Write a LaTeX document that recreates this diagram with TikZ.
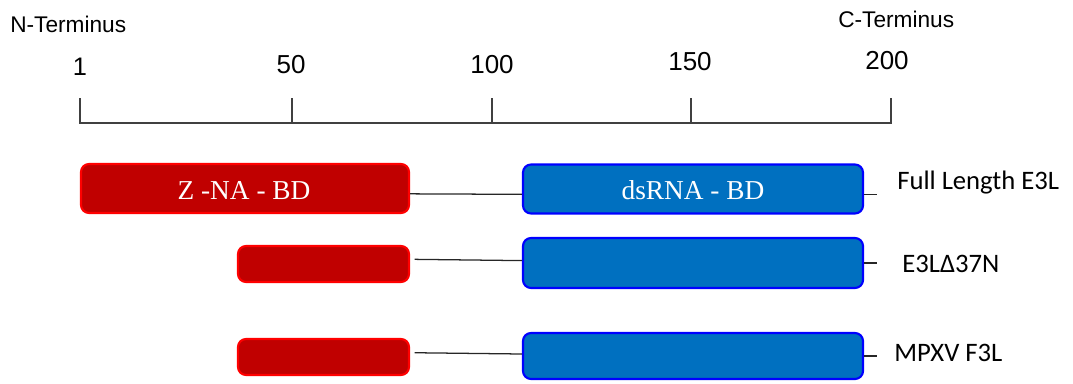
\documentclass[tikz,border=0pt]{standalone}
\usepackage{fontspec}
\setmainfont{Liberation Serif}
\newfontfamily\axisfont{Liberation Sans}
\newfontfamily\labelfont{Carlito}
\definecolor{znared}{HTML}{C00000}
\definecolor{znaedge}{HTML}{FF0000}
\definecolor{dsblue}{HTML}{0070C0}
\definecolor{dsedge}{HTML}{0000FF}
\definecolor{axisgray}{HTML}{404040}
\tikzset{
  protbox/.style={rounded corners=6pt, line width=1.6pt, inner sep=0pt,
    text=white, font=\fontsize{20}{24}\selectfont},
  zna/.style={protbox, fill=znared, draw=znaedge},
  dsrna/.style={protbox, fill=dsblue, draw=dsedge},
  boxtext/.style={font=\fontsize{20.5}{24}\selectfont, text=white, anchor=base, inner sep=0pt},
  link/.style={draw=black!85, line width=0.95pt},
  axisline/.style={draw=axisgray, line width=1pt},
  ticklabel/.style={anchor=base, inner sep=0pt, font=\axisfont\fontsize{19.5}{23}\selectfont},
  endlabel/.style={anchor=base west, inner sep=0pt, font=\axisfont\fontsize{17}{20}\selectfont},
  construct/.style={anchor=base west, inner sep=0pt, font=\labelfont\fontsize{20}{24}\selectfont},
}
\begin{document}
\begin{tikzpicture}[x=0.75pt,y=-0.75pt]
\useasboundingbox (0,0) rectangle (1073,383);

% residue scale
\node[endlabel] (nterm) at (10,32) {N-Terminus};
\node[endlabel] (cterm) at (838,27) {C-Terminus};
\node[ticklabel,font=\axisfont\fontsize{19}{22}\selectfont] (t1) at (80,75) {1};
\node[ticklabel] (t50) at (291,73) {50};
\node[ticklabel] (t100) at (492,73) {100};
\node[ticklabel] (t150) at (690,70) {150};
\node[ticklabel] (t200) at (887,69) {200};
\draw[axisline] (80,98) -- (80,123) -- (891,123) -- (891,98);
\foreach \x in {292,492,691} \draw[axisline] (\x,98) -- (\x,123);

% full length E3L
\node[zna, minimum width=328*0.75pt, minimum height=49*0.75pt] (r1) at (245,188.5) {};
\node[boxtext] (r1t) at (244,199) {Z -NA - BD};
\node[dsrna, minimum width=340*0.75pt, minimum height=49*0.75pt] (b1) at (693,189) {};
\node[boxtext] (b1t) at (693,199) {dsRNA - BD};
\draw[link] ([yshift=-4pt]r1.east) -- ([yshift=-4pt]b1.west);
\draw[link] ([yshift=-4pt]b1.east) -- ++(13,0);
\node[construct] (l1) at (897,189.5) {Full Length E3L};

% E3L delta 37N
\node[zna, minimum width=171*0.75pt, minimum height=36*0.75pt] (r2) at (323.5,264) {};
\node[dsrna, minimum width=340*0.75pt, minimum height=50*0.75pt] (b2) at (693,263) {};
\draw[link] ([xshift=3.5pt,yshift=3.5pt]r2.east) -- ([yshift=1.8pt]b2.west);
\draw[link] (b2.east) -- ++(13,0);
\node[construct] (l2) at (902,272) {E3LΔ37N};

% MPXV F3L
\node[zna, minimum width=171*0.75pt, minimum height=36*0.75pt] (r3) at (323.5,357) {};
\node[dsrna, minimum width=340*0.75pt, minimum height=46*0.75pt] (b3) at (693,356) {};
\draw[link] ([xshift=3.5pt,yshift=3.2pt]r3.east) -- ([yshift=1.5pt]b3.west);
\draw[link] (b3.east) -- ++(13,0);
\node[construct] (l3) at (894,361) {MPXV F3L};
\end{tikzpicture}
\end{document}
